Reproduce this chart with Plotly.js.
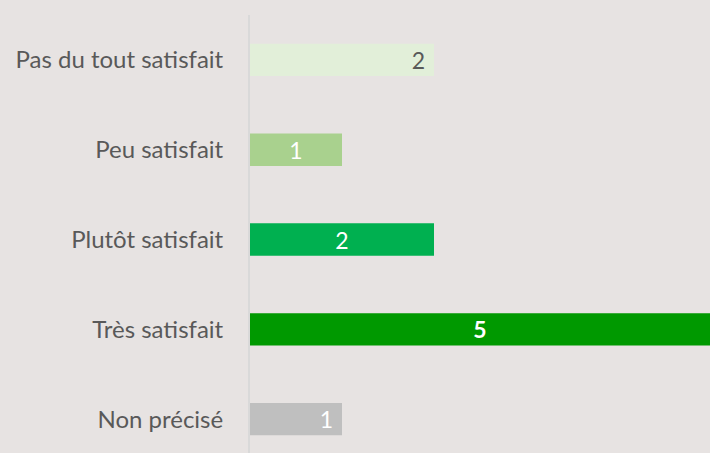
<!DOCTYPE html>
<html><head><meta charset="utf-8">
<script src="https://cdn.plot.ly/plotly-3.0.1.min.js"></script>
<style>html,body{margin:0;padding:0;background:#E7E3E2;}#chart{width:710px;height:453px;}</style>
</head><body><div id="chart"></div>
<script>
const categories = ["Pas du tout satisfait", "Peu satisfait", "Plutôt satisfait", "Très satisfait", "Non précisé"];
const values = [2, 1, 2, 5, 1];
const colors = ["#E2EFD9", "#A9D18E", "#00B050", "#009900", "#BFBFBF"];
const textColors = ["#595959", "#FFFFFF", "#FFFFFF", "#FFFFFF", "#FFFFFF"];
const anchors = ["end", "middle", "middle", "middle", "end"];
const bold = [false, false, false, true, false];

const traces = categories.map((c, i) => ({
  type: 'bar', orientation: 'h',
  y: [c], x: [values[i]],
  marker: {color: colors[i]},
  text: [bold[i] ? '<b>' + values[i] + '</b>' : (anchors[i] === 'end' ? values[i] + '\u00a0' : String(values[i]))],
  textposition: 'inside',
  insidetextanchor: anchors[i],
  textangle: 0,
  constraintext: 'none',
  insidetextfont: {family: 'Lato, sans-serif', size: 23, color: textColors[i]},
  hoverinfo: 'none',
  width: 0.36
}));

const layout = {
  width: 710, height: 453,
  margin: {l: 250, r: 0, t: 15, b: 0, pad: 0},
  paper_bgcolor: '#E7E3E2', plot_bgcolor: '#E7E3E2',
  showlegend: false,
  barmode: 'overlay',
  font: {family: 'Lato, sans-serif', color: '#595959'},
  xaxis: {range: [0, 5], visible: false, fixedrange: true},
  yaxis: {
    type: 'category', categoryorder: 'array', categoryarray: categories,
    range: [4.377, -0.5],
    showline: true, linecolor: '#D9D9D9', linewidth: 2,
    showgrid: false, zeroline: false,
    ticks: '', ticklabelstandoff: 20,
    tickfont: {family: 'Lato, sans-serif', size: 24, color: '#595959'}
  }
};
Plotly.newPlot('chart', traces, layout, {displayModeBar: false, staticPlot: true});
</script></body></html>
